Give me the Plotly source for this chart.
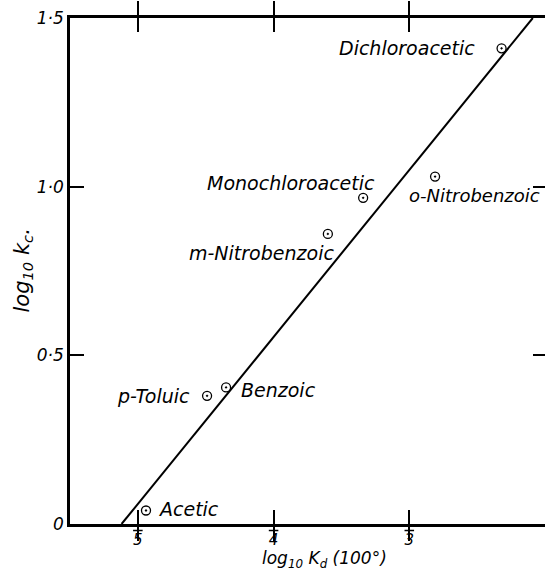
import plotly.graph_objects as go

# Acid strength data: log10 Kd (100°) against log10 kc
acids = ["Acetic", "p-Toluic", "Benzoic", "m-Nitrobenzoic",
         "Monochloroacetic", "o-Nitrobenzoic", "Dichloroacetic"]
log_kd = [-4.94, -4.49, -4.35, -3.60, -3.34, -2.81, -2.32]
log_kc = [0.04, 0.38, 0.405, 0.86, 0.967, 1.03, 1.41]

# fitted straight line
fit_x = [-5.12, -2.09]
fit_y = [0.0, 1.5]

x_ticks = [-5, -4, -3, -2]
x_tick_digits = ["5", "4", "3", "2"]
y_ticks = [0, 0.5, 1.0, 1.5]
y_tick_text = ["0", "0·5", "1·0", "1·5"]

FONT = "DejaVu Sans"

# where each acid's name sits relative to its point: (xanchor, dx, dy, size)
LABEL_STYLE = {
    "Acetic": ("left", 10, 2, 19),
    "p-Toluic": ("right", -15, 0, 19),
    "Benzoic": ("left", 13, -3, 19),
    "m-Nitrobenzoic": ("right", 8, -19, 19),
    "Monochloroacetic": ("right", 14, 15, 19),
    "o-Nitrobenzoic": ("left", -28, -19, 18),
    "Dichloroacetic": ("right", -25, 0, 19),
}

fig = go.Figure()
fig.add_trace(go.Scatter(x=fit_x, y=fit_y, mode="lines",
                         line=dict(color="black", width=2), hoverinfo="skip"))
fig.add_trace(go.Scatter(
    x=log_kd, y=log_kc, mode="markers", text=acids,
    marker=dict(symbol="circle-open-dot", size=9, color="black",
                line=dict(color="black", width=1.3)),
    cliponaxis=False,
))
# invisible trace carrying the right-hand tick marks
fig.add_trace(go.Scatter(x=[None], y=[None], yaxis="y2", showlegend=False))

annotations = []
for name, xv, yv in zip(acids, log_kd, log_kc):
    anchor, dx, dy, size = LABEL_STYLE[name]
    annotations.append(dict(
        text=name, x=xv, y=yv, xref="x", yref="y", xanchor=anchor,
        yanchor="middle", xshift=dx, yshift=dy, showarrow=False,
        font=dict(size=size)))

annotations += [
    dict(text="log<sub>10</sub> K<sub>d</sub> (100°)", xref="paper",
         yref="paper", x=0.535, y=-0.097, xanchor="center",
         yanchor="bottom", showarrow=False, font=dict(size=17)),
    dict(text="log<sub>10</sub> k<sub>c</sub>.", xref="paper",
         yref="paper", x=-0.1, y=0.5, xanchor="center",
         yanchor="middle", textangle=-90, showarrow=False,
         font=dict(size=21)),
]

fig.update_layout(
    width=545, height=573,
    margin=dict(l=70, r=0, t=18, b=49),
    paper_bgcolor="white", plot_bgcolor="white",
    showlegend=False,
    font=dict(family=FONT, size=16, color="black", style="italic"),
    xaxis=dict(range=[-5.5, -2.0], tickvals=x_ticks,
               ticktext=["<span style='text-decoration:overline'>%s</span>" % d
                         for d in x_tick_digits],
               ticks="inside", ticklen=14, tickwidth=2, tickcolor="black",
               showline=True, linewidth=2.5, linecolor="black",
               mirror="allticks", showgrid=False, zeroline=False,
               ticklabelstandoff=0, tickfont=dict(size=15)),
    yaxis=dict(range=[0, 1.5], tickvals=y_ticks, ticktext=y_tick_text,
               ticks="inside", ticklen=14, tickwidth=2, tickcolor="black",
               showline=True, linewidth=2.5, linecolor="black",
               showgrid=False, zeroline=False, tickfont=dict(size=17)),
    yaxis2=dict(range=[0, 1.5], tickvals=y_ticks, overlaying="y",
                side="right", anchor="x", ticks="inside", ticklen=12,
                tickwidth=2, tickcolor="black", showline=False,
                showticklabels=False, showgrid=False, zeroline=False),
    annotations=annotations,
)

fig.write_html("out.html")
